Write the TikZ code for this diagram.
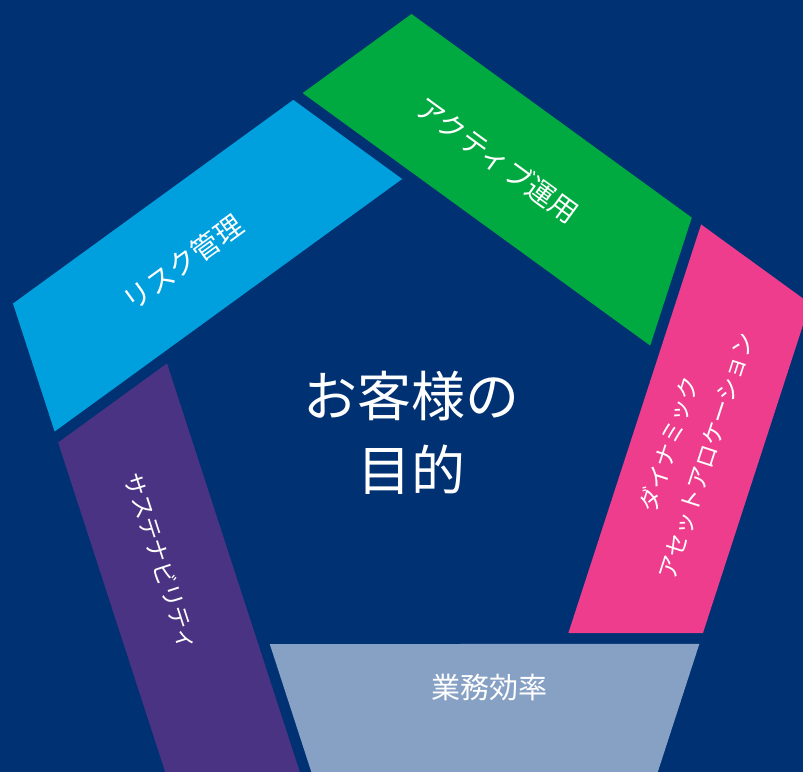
\documentclass[tikz,border=0pt]{standalone}
\usepackage{fontspec}
\setmainfont{Noto Sans CJK JP}

\definecolor{navy}{RGB}{0,49,114}
\definecolor{bandgreen}{RGB}{0,170,64}
\definecolor{bandblue}{RGB}{0,160,223}
\definecolor{bandpurple}{RGB}{74,51,131}
\definecolor{bandpink}{RGB}{238,61,140}
\definecolor{bandsteel}{RGB}{135,161,197}

\begin{document}
\begin{tikzpicture}[x=1pt,y=1pt,
    lbl/.style={text=white,inner sep=0pt,align=center,font=\fontsize{28}{34}\selectfont},
    small lbl/.style={lbl,font=\fontsize{23.5}{39}\selectfont}]
  % background
  \useasboundingbox (-411.5,-339) rectangle (391.5,433);
  \fill[navy] (-411.5,-339) rectangle (391.5,433);
  \clip (-411.5,-339) rectangle (391.5,433);

  % top right
  \fill[bandgreen] (90:419) -- (107.76:356.9) -- (20.11:254.2) -- (37.54:353.5) -- cycle;
  % right
  \fill[bandpink] (18:419) -- (35.76:356.9) -- (-51.89:254.2) -- (-34.46:353.5) -- cycle;
  % bottom
  \fill[bandsteel] (-54:419) -- (-36.24:356.9) -- (-123.89:254.2) -- (-106.46:353.5) -- cycle;
  % left
  \fill[bandpurple] (234:419) -- (251.76:356.9) -- (164.11:254.2) -- (181.54:353.5) -- cycle;
  % top left
  \fill[bandblue] (162:419) -- (179.76:356.9) -- (92.11:254.2) -- (109.54:353.5) -- cycle;

  % centre
  \node[lbl,font=\fontsize{54}{74}\selectfont] (goal) at (0.5,0) {お客様の\\目的};

  % labels
  \node[lbl,rotate=-36] (active) at (86,273) {アクティブ運用};
  \node[small lbl,rotate=72] (dynamic) at (276,-17) {ダイナミック\\アセットアロケーション};
  \node[lbl,font=\fontsize{29}{34}\selectfont] (ops) at (77.5,-255) {業務効率};
  \node[small lbl,rotate=-72] (esg) at (-250.5,-129) {サステナビリティ};
  \node[lbl,rotate=36] (risk) at (-228.5,170) {リスク管理};
\end{tikzpicture}
\end{document}
